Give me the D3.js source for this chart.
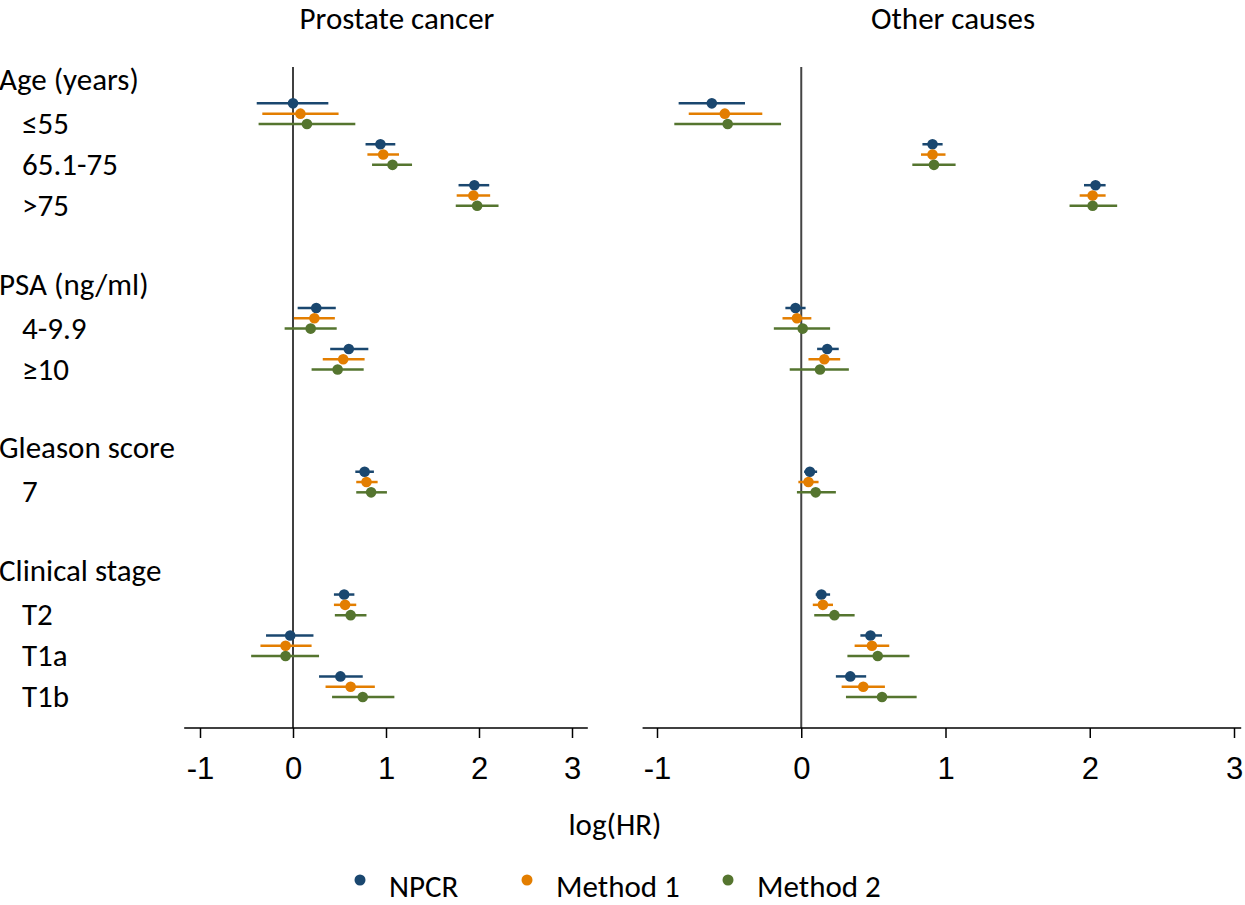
<!DOCTYPE html>
<html>
<head>
<meta charset="utf-8">
<script src="https://cdn.jsdelivr.net/npm/d3@7"></script>
<style>
  body { margin: 0; background: #fff; }
  svg { display: block; font-family: Carlito, Lato, sans-serif; }
</style>
</head>
<body>
<svg width="1245" height="905"></svg>
<script>
// row labels: headers and the levels under them (slot = row number)
var groups = ["Age (years)", "PSA (ng/ml)", "Gleason score", "Clinical stage"];
var groupSlots = [0, 5, 9, 12];
var levels = ["≤55", "65.1-75", ">75", "4-9.9", "≥10", "7", "T2", "T1a", "T1b"];
var levelSlots = [1, 2, 3, 6, 7, 10, 13, 14, 15];

var methods = ["NPCR", "Method 1", "Method 2"];
var colors = ["#1a476f", "#e37e00", "#55752f"];
var ticks = [-1, 0, 1, 2, 3];

// Prostate cancer: log(HR) with 95% CI
var pcNpcr   = [0.00, 0.94, 1.95, 0.25, 0.60, 0.77, 0.55, -0.03, 0.51];
var pcNpcrLo = [-0.39, 0.78, 1.78, 0.05, 0.40, 0.67, 0.44, -0.29, 0.28];
var pcNpcrHi = [0.38, 1.10, 2.11, 0.46, 0.81, 0.87, 0.66, 0.22, 0.75];
var pcM1     = [0.08, 0.97, 1.94, 0.23, 0.54, 0.79, 0.56, -0.08, 0.62];
var pcM1Lo   = [-0.33, 0.80, 1.76, 0.01, 0.32, 0.68, 0.44, -0.35, 0.35];
var pcM1Hi   = [0.49, 1.14, 2.12, 0.45, 0.77, 0.91, 0.68, 0.20, 0.88];
var pcM2     = [0.15, 1.07, 1.98, 0.19, 0.48, 0.84, 0.62, -0.08, 0.75];
var pcM2Lo   = [-0.37, 0.85, 1.75, -0.09, 0.20, 0.68, 0.45, -0.45, 0.42];
var pcM2Hi   = [0.67, 1.28, 2.21, 0.47, 0.76, 1.01, 0.79, 0.28, 1.09];

// Other causes
var ocNpcr   = [-0.62, 0.91, 2.04, -0.04, 0.18, 0.06, 0.14, 0.48, 0.34];
var ocNpcrLo = [-0.85, 0.84, 1.96, -0.11, 0.11, 0.02, 0.10, 0.41, 0.24];
var ocNpcrHi = [-0.39, 0.98, 2.11, 0.03, 0.26, 0.11, 0.20, 0.56, 0.45];
var ocM1     = [-0.53, 0.91, 2.02, -0.03, 0.16, 0.05, 0.15, 0.49, 0.43];
var ocM1Lo   = [-0.78, 0.83, 1.93, -0.13, 0.05, -0.02, 0.08, 0.37, 0.28];
var ocM1Hi   = [-0.27, 1.00, 2.11, 0.07, 0.27, 0.12, 0.22, 0.61, 0.58];
var ocM2     = [-0.51, 0.92, 2.02, 0.01, 0.13, 0.10, 0.23, 0.53, 0.56];
var ocM2Lo   = [-0.88, 0.77, 1.86, -0.19, -0.08, -0.03, 0.09, 0.32, 0.31];
var ocM2Hi   = [-0.14, 1.07, 2.19, 0.20, 0.33, 0.24, 0.37, 0.75, 0.80];

var svg = d3.select("svg");
var fontSize = 31;

var y = d3.scaleLinear().domain([0, 15]).range([83, 697]);
var axisY = 728;
var dotOffset = 10.3; // vertical gap between the three methods

// left labels
svg.selectAll(".grp").data(groups).enter().append("text")
  .attr("x", -1)
  .attr("y", function(d, i) { return y(groupSlots[i]) + 7; })
  .attr("font-size", fontSize)
  .text(function(d) { return d; });

svg.selectAll(".lvl").data(levels).enter().append("text")
  .attr("x", 22)
  .attr("y", function(d, i) { return y(levelSlots[i]) + 10; })
  .attr("font-size", fontSize)
  .text(function(d) { return d; });

var panels = [
  { title: "Prostate cancer", titleX: 397, range: [200, 572], ext: [-1.17, 3.17], zero: "#000", zw: 1.5,
    est: [pcNpcr, pcM1, pcM2], lo: [pcNpcrLo, pcM1Lo, pcM2Lo], hi: [pcNpcrHi, pcM1Hi, pcM2Hi] },
  { title: "Other causes", titleX: 953, range: [657, 1234], ext: [-1.1, 3.05], zero: "#444", zw: 2,
    est: [ocNpcr, ocM1, ocM2], lo: [ocNpcrLo, ocM1Lo, ocM2Lo], hi: [ocNpcrHi, ocM1Hi, ocM2Hi] }
];

panels.forEach(function(p) {
  var x = d3.scaleLinear().domain([-1, 3]).range(p.range);
  var g = svg.append("g");

  g.append("text")
    .attr("x", p.titleX).attr("y", 29)
    .attr("text-anchor", "middle")
    .attr("font-size", fontSize)
    .text(p.title);

  // reference line at 0
  g.append("line")
    .attr("x1", x(0)).attr("x2", x(0))
    .attr("y1", 67).attr("y2", axisY)
    .attr("stroke", p.zero).attr("stroke-width", p.zw);

  // x axis
  var ax = g.append("g")
    .attr("transform", "translate(0," + axisY + ")")
    .call(d3.axisBottom(x).tickValues(ticks).tickSize(10).tickPadding(19)
      .tickFormat(function(d) { return String(d); }));
  ax.select(".domain").remove();
  ax.selectAll(".tick line").attr("stroke", "#000").attr("stroke-width", 1.5);
  ax.selectAll(".tick text").attr("font-size", fontSize).attr("font-family", null).attr("fill", "#000");
  g.append("line")
    .attr("x1", x(p.ext[0])).attr("x2", x(p.ext[1]))
    .attr("y1", axisY).attr("y2", axisY)
    .attr("stroke", "#000").attr("stroke-width", 1.5);

  methods.forEach(function(m, k) {
    var off = (k - 2) * dotOffset;
    var mg = g.append("g");
    mg.selectAll("line").data(p.est[k]).enter().append("line")
      .attr("x1", function(d, i) { return x(p.lo[k][i]); })
      .attr("x2", function(d, i) { return x(p.hi[k][i]); })
      .attr("y1", function(d, i) { return y(levelSlots[i]) + off; })
      .attr("y2", function(d, i) { return y(levelSlots[i]) + off; })
      .attr("stroke", colors[k]).attr("stroke-width", 2.5);
    mg.selectAll("circle").data(p.est[k]).enter().append("circle")
      .attr("cx", function(d) { return x(d); })
      .attr("cy", function(d, i) { return y(levelSlots[i]) + off; })
      .attr("r", 5.3)
      .attr("fill", colors[k]);
  });
});

svg.append("text")
  .attr("x", 615).attr("y", 835)
  .attr("text-anchor", "middle")
  .attr("font-size", fontSize)
  .text("log(HR)");

// legend
var legX = [360, 527, 728];
var leg = svg.selectAll(".leg").data(methods).enter().append("g")
  .attr("transform", function(d, i) { return "translate(" + legX[i] + ",880)"; });
leg.append("circle").attr("r", 5.5).attr("fill", function(d, i) { return colors[i]; });
leg.append("text")
  .attr("x", 29).attr("y", 17)
  .attr("font-size", fontSize)
  .text(function(d) { return d; });
</script>
</body>
</html>
